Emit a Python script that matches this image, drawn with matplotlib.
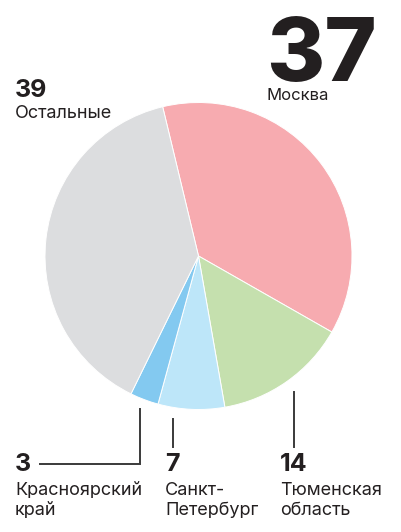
import matplotlib
matplotlib.use("Agg")
import matplotlib.pyplot as plt

W, H = 401, 532
regions = ["Москва", "Тюменская\nобласть", "Санкт-\nПетербург", "Красноярский\nкрай", "Остальные"]
values = [37, 14, 7, 3, 39]
colors = ["#f7abb0", "#c5e0ae", "#bde6f9", "#83c9f0", "#dcdddf"]

TXT = "#231f20"
FONT = ["Inter", "DejaVu Sans"]

fig = plt.figure(figsize=(W / 100, H / 100), dpi=100)
ax = fig.add_axes([0, 0, 1, 1])

def Y(y):
    return H - y

cx, cy, r = 198.5, 256, 153.5
ax.pie(values, colors=colors, startangle=103.5, counterclock=False,
       center=(cx, Y(cy)), radius=r, frame=True,
       wedgeprops=dict(edgecolor="white", linewidth=0.7))
ax.set_xlim(0, W)
ax.set_ylim(0, H)
ax.set_aspect("equal")
ax.axis("off")

# Moscow big label
ax.text(266, Y(81), str(values[0]), fontsize=64, fontweight="heavy", color=TXT,
        family=FONT, va="baseline", ha="left")
ax.text(266, Y(100), regions[0], fontsize=12, color=TXT, family=FONT, va="baseline")

# Others
ax.text(15, Y(97), str(values[4]), fontsize=18, fontweight="bold", color=TXT,
        family=FONT, va="baseline")
ax.text(15, Y(118), regions[4], fontsize=13, color=TXT, family=FONT, va="baseline")

# bottom labels
bottom = [(3, 15), (2, 165), (1, 280)]
for idx, x in bottom:
    ax.text(x, Y(471), str(values[idx]), fontsize=18, fontweight="bold", color=TXT,
            family=FONT, va="baseline")
    ax.text(x, Y(515), regions[idx], fontsize=13, color=TXT, family=FONT,
            va="baseline", linespacing=1.25)

lc = "#3a3a3a"
ax.plot([40, 140, 140], [Y(464), Y(464), Y(409)], color=lc, lw=1.4, solid_joinstyle="miter")
ax.plot([173, 173], [Y(419), Y(447)], color=lc, lw=1.4)
ax.plot([294, 294], [Y(392), Y(447)], color=lc, lw=1.4)

fig.savefig("out.png", dpi=100)
